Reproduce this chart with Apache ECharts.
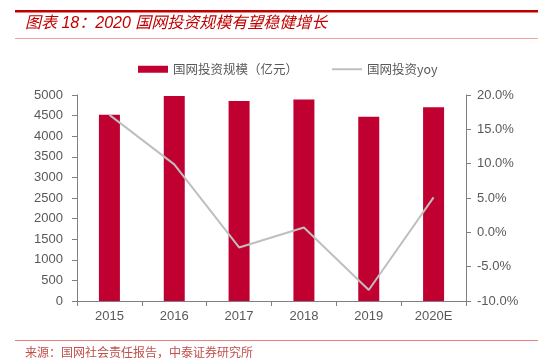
<!DOCTYPE html>
<html><head><meta charset="utf-8">
<script src="https://cdn.jsdelivr.net/npm/echarts@6/dist/echarts.min.js"></script>
<style>html,body{margin:0;padding:0;background:#fff}#c{width:546px;height:363px}</style>
</head><body><div id="c"></div>
<script>
var categories = ['2015','2016','2017','2018','2019','2020E'];
var investment = [4521, 4977, 4854, 4889, 4473, 4700];
var yoy = [17.1, 9.9, -2.2, 0.7, -8.4, 5.1];
var leftTicks = {min:0, max:5000, interval:500};
var rightTicks = {min:-10, max:20, interval:5};
var titleText = '图表 18：2020 国网投资规模有望稳健增长';
var sourceText = '来源：国网社会责任报告，中泰证券研究所';
var barName = '国网投资规模（亿元）';
var lineName = '国网投资yoy';

var chart = echarts.init(document.getElementById('c'), null, {renderer:'canvas'});
var labelFont = {color:'#595959', fontSize:13, fontFamily:'Liberation Sans, Arial, sans-serif'};
chart.setOption({
  animation:false,
  graphic:[
    {type:'rect', shape:{x:15,y:10,width:523,height:2.5}, style:{fill:'#C00000'}},
    {type:'rect', shape:{x:15,y:38,width:523,height:1}, style:{fill:'#F4A0A0'}},
    {type:'text', left:25, top:16, style:{text:titleText, fill:'#C00000', font:'italic 16px "Liberation Sans", "Noto Sans CJK SC", sans-serif'}},
    {type:'rect', shape:{x:15,y:340,width:523,height:1}, style:{fill:'#E88080'}},
    {type:'text', left:25, top:346, style:{text:sourceText, fill:'#C0504D', font:'12px "Noto Sans CJK SC", sans-serif'}}
  ],
  legend:{
    top:58, left:133, itemGap:34, itemWidth:30, itemHeight:7,
    textStyle:{color:'#595959', fontSize:12.5, fontFamily:'"Noto Sans CJK SC", sans-serif'},
    data:[{name:barName, icon:'rect'}, {name:lineName, icon:'path://M0,0 L0,0 M0,2.5 L30,2.5 L30,4.5 L0,4.5 Z M30,7 L30,7'}]
  },
  grid:{left:77, right:80, top:95, bottom:62},
  xAxis:{
    type:'category', data:categories, boundaryGap:true,
    axisLine:{lineStyle:{color:'#808080', width:1}},
    axisTick:{show:true, length:5, lineStyle:{color:'#808080'}},
    axisLabel:Object.assign({margin:9}, labelFont)
  },
  yAxis:[
    {type:'value', min:leftTicks.min, max:leftTicks.max, interval:leftTicks.interval,
     axisLine:{show:true, lineStyle:{color:'#808080'}},
     axisTick:{show:true, length:5, lineStyle:{color:'#808080'}},
     splitLine:{show:false},
     axisLabel:Object.assign({margin:14, formatter:function(v){return String(v);}}, labelFont)},
    {type:'value', min:rightTicks.min, max:rightTicks.max, interval:rightTicks.interval,
     axisLine:{show:true, lineStyle:{color:'#808080'}},
     axisTick:{show:true, length:5, lineStyle:{color:'#808080'}},
     splitLine:{show:false},
     axisLabel:Object.assign({margin:11, formatter:function(v){return v.toFixed(1)+'%';}}, labelFont)}
  ],
  series:[
    {name:barName, type:'bar', data:investment, barWidth:21, itemStyle:{color:'#C00030'}},
    {name:lineName, type:'line', yAxisIndex:1, data:yoy, symbol:'none', lineStyle:{color:'#BFBFBF', width:2}, itemStyle:{color:'#BFBFBF'}}
  ]
});
</script></body></html>
